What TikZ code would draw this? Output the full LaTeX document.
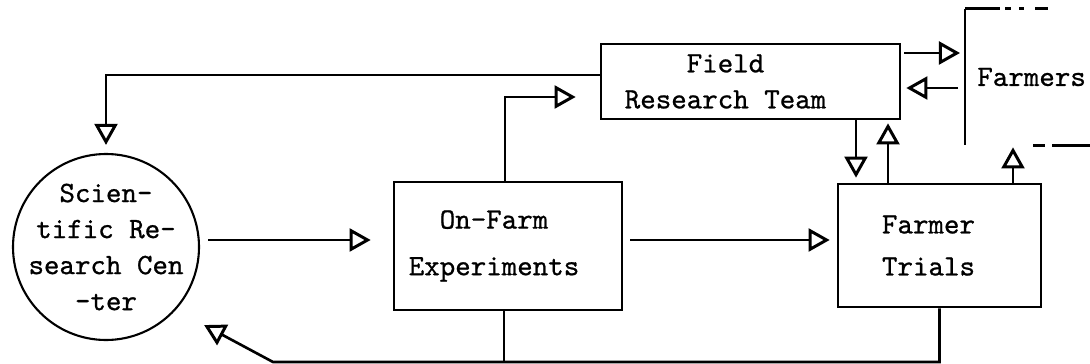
\documentclass[tikz,border=0pt]{standalone}
\usepackage{fontspec}
\newfontfamily\typewriter[FakeBold=0.8]{lmmono10-regular.otf}
\usetikzlibrary{arrows.meta,positioning}

\begin{document}
\begin{tikzpicture}[
  every node/.style={font=\typewriter\fontsize{16.8}{20.5}\selectfont, inner sep=0pt},
  box/.style={draw, line width=1.5pt, rectangle},
  flowline/.style={line width=1.5pt},
  flowarrow/.style={flowline, -{Triangle[open,length=12pt,width=13pt,line width=1.7pt]}}
]
  \useasboundingbox (0,0) rectangle (21.8,-7.28);
  % centre and boxes
  \node[draw, circle, line width=1.2pt, minimum size=3.72cm] (src) at (2.12,-4.94) {};
  \node[align=center] (srctext) at (src) {Scien-\\tific Re-\\search Cen\\-ter};
  \node[box, minimum width=4.56cm, minimum height=2.56cm] (ofe) at (10.16,-4.92) {};
  \node[align=center] (ofetext) at ([xshift=-0.28cm]ofe.center) {On-Farm\\[6pt]Experiments};
  \node[box, minimum width=4.06cm, minimum height=2.46cm] (ft) at (18.79,-4.91) {};
  \node[align=center] (fttext) at ([xshift=-0.22cm]ft.center) {Farmer\\[3.4pt]Trials};
  \node[box, minimum width=5.98cm, minimum height=1.5cm] (frt) at (15.01,-1.63) {};
  \node[align=center] (frttext) at ([xshift=-0.5cm]frt.center) {Field\\Research Team};
  \node[anchor=west, inner xsep=0.24cm, minimum height=2.72cm] (farmers) at (19.3,-1.54) {Farmers};
  % farmers box runs off the page
  \draw[flowline] (farmers.north west) -- (farmers.south west);
  \draw[flowline, dash pattern=on 0.7cm off 0.1cm on 0.12cm off 0.16cm on 0.1cm off 0.22cm on 0.26cm]
    (farmers.north west) -- ++(1.66,0);
  \draw[flowline, dash pattern=on 0.24cm off 0.14cm on 2cm]
    ([xshift=1.36cm]farmers.south west) -- ++(1.2,0);
  % main line
  \draw[flowarrow, shorten <=0.16cm, shorten >=0.44cm] (src.east |- 0,-4.8) -- (ofe.west |- 0,-4.8);
  \draw[flowarrow, shorten <=0.14cm, shorten >=0.14cm] (ofe.east |- 0,-4.8) -- (ft.west |- 0,-4.8);
  % team back to the centre
  \draw[flowarrow, shorten >=0.16cm] ([yshift=0.13cm]frt.west) -| (src.north);
  \draw[flowarrow, shorten >=0.48cm] ([xshift=-0.06cm]ofe.north) |- ([yshift=-0.31cm]frt.west);
  % team and trials
  \coordinate (tdown) at ([xshift=2.11cm]frt.south);
  \draw[flowarrow, shorten >=0.1cm] (tdown) -- (tdown |- ft.north);
  \coordinate (tup) at ([xshift=-1.03cm]ft.north);
  \draw[flowarrow, shorten >=0.06cm] (tup) -- (tup |- frt.south);
  % team and farmers
  \coordinate (tout) at ([yshift=0.57cm]frt.east);
  \draw[flowarrow, shorten <=0.06cm, shorten >=0.1cm] (tout) -- (tout -| farmers.west);
  \coordinate (fin) at ([yshift=-0.22cm]farmers.west);
  \draw[flowarrow, shorten <=0.14cm, shorten >=0.1cm] (fin) -- (fin -| frt.east);
  \coordinate (fup) at ([xshift=1.47cm]ft.north);
  \draw[flowarrow, shorten >=0.04cm] (fup) -- (fup |- farmers.south);
  % feedback along the bottom
  \coordinate (fb) at (5.46,-7.24);
  \draw[flowarrow, shorten >=0.64cm] (ft.south) |- (fb) -- (src.-42);
  \coordinate (odown) at ([xshift=-0.08cm]ofe.south);
  \draw[flowline] (odown) -- (odown |- fb);
\end{tikzpicture}
\end{document}
